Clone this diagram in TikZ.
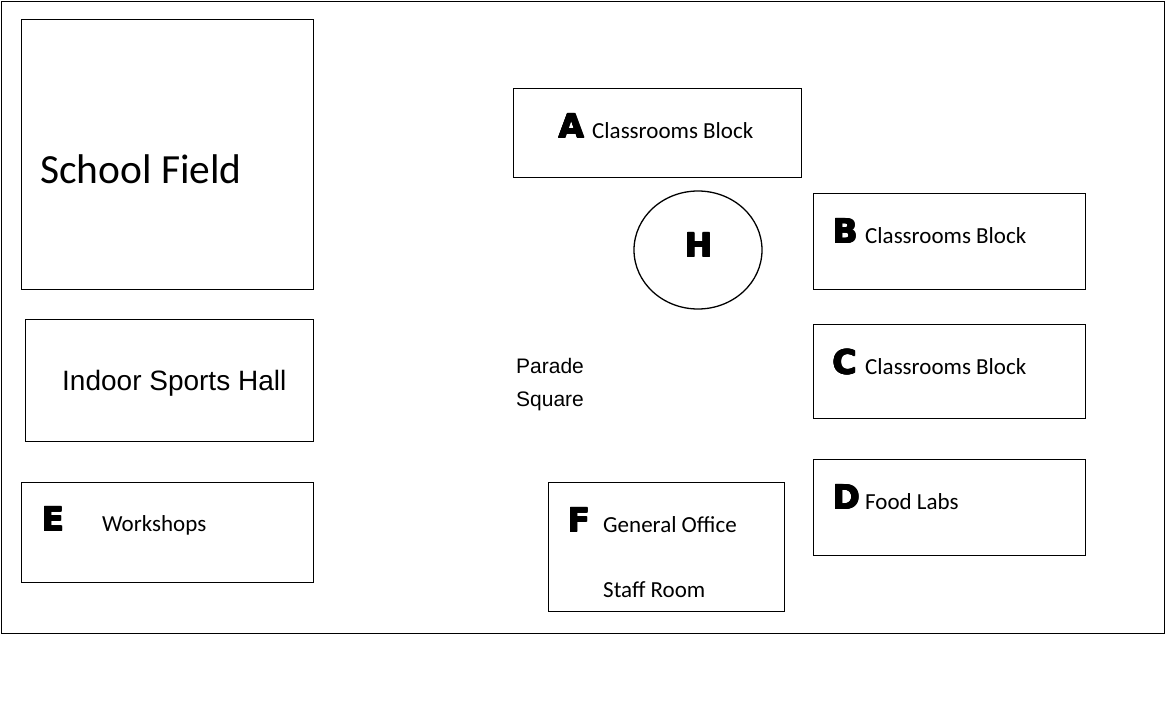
\documentclass[tikz,border=0pt]{standalone}
\usepackage{fontspec}
\usetikzlibrary{shapes.geometric}
\newfontfamily\calfont{Carlito}
\newfontfamily\arifont{Liberation Sans}
\newfontfamily\blkfont{DejaVu Sans Bold}
\newcommand\hvy[1]{\leavevmode\rlap{#1}\rlap{\kern1.5pt#1}\rlap{\kern0.75pt#1}\rlap{\raisebox{0.8pt}{\kern0.75pt#1}}\rlap{\raisebox{-0.6pt}{\kern0.75pt#1}}\rlap{\raisebox{0.8pt}{#1}}\rlap{\raisebox{0.8pt}{\kern1.5pt#1}}\phantom{#1}\kern1.5pt}
\begin{document}
\begin{tikzpicture}[x=1pt,y=-1pt,
  bldg/.style={draw=black, line width=1.3pt, inner sep=0pt, anchor=north west},
  lbl/.style={inner sep=0pt, anchor=base west, font=\calfont\fontsize{23}{27}\selectfont},
  big/.style={inner sep=0pt, anchor=base west, font=\blkfont\fontsize{33}{40}\selectfont},
  ari/.style={inner sep=0pt, anchor=base west, font=\arifont\fontsize{21}{34}\selectfont}]
\useasboundingbox (0,0) rectangle (1169,720);
\node[bldg, minimum width=1163pt, minimum height=632pt] (site) at (1,1) {};
% buildings
\node[bldg, minimum width=292pt, minimum height=270pt] (field) at (21,19) {};
\node[bldg, minimum width=288pt, minimum height=122pt] (hall) at (25,319) {};
\node[bldg, minimum width=292pt, minimum height=100pt] (e) at (21,482) {};
\node[bldg, minimum width=288pt, minimum height=89pt] (a) at (513,88) {};
\node[draw=black, line width=1.3pt, ellipse, minimum width=128pt, minimum height=118pt, inner sep=0pt] (h) at (698,250) {};
\node[bldg, minimum width=272pt, minimum height=96pt] (b) at (813,193) {};
\node[bldg, minimum width=272pt, minimum height=94pt] (c) at (813,324) {};
\node[bldg, minimum width=272pt, minimum height=96pt] (d) at (813,459) {};
\node[bldg, minimum width=236pt, minimum height=129pt] (f) at (548,482) {};
% texts
\node[inner sep=0pt, anchor=base west, font=\calfont\fontsize{41.5}{48}\selectfont] (tfield) at (40,183) {School Field};
\node[inner sep=0pt, anchor=base west, font=\arifont\fontsize{28}{34}\selectfont] (thall) at (62,390) {Indoor Sports Hall};
\node[big] (la) at (558,138) {\hvy{A}};
\node[lbl] (ta) at (592,138) {Classrooms Block};
\node[inner sep=0pt, anchor=base, font=\blkfont\fontsize{33}{40}\selectfont] (lh) at (699,257) {\hvy{H}};
\node[big] (lb) at (832,243) {\hvy{B}};
\node[lbl] (tb) at (865,243) {Classrooms Block};
\node[big] (lc) at (832,374) {\hvy{C}};
\node[lbl] (tc) at (865,374) {Classrooms Block};
\node[big] (ld) at (832,509) {\hvy{D}};
\node[lbl] (td) at (865,509) {Food Labs};
\node[big] (le) at (41,531) {\hvy{E}};
\node[lbl] (te) at (102,531) {Workshops};
\node[big] (lf) at (567,532) {\hvy{F}};
\node[lbl] (tf1) at (603,532) {General Office};
\node[lbl] (tf2) at (603,597) {Staff Room};
\node[ari] (tp1) at (516,373) {Parade};
\node[ari] (tp2) at (516,406) {Square};
\end{tikzpicture}
\end{document}
